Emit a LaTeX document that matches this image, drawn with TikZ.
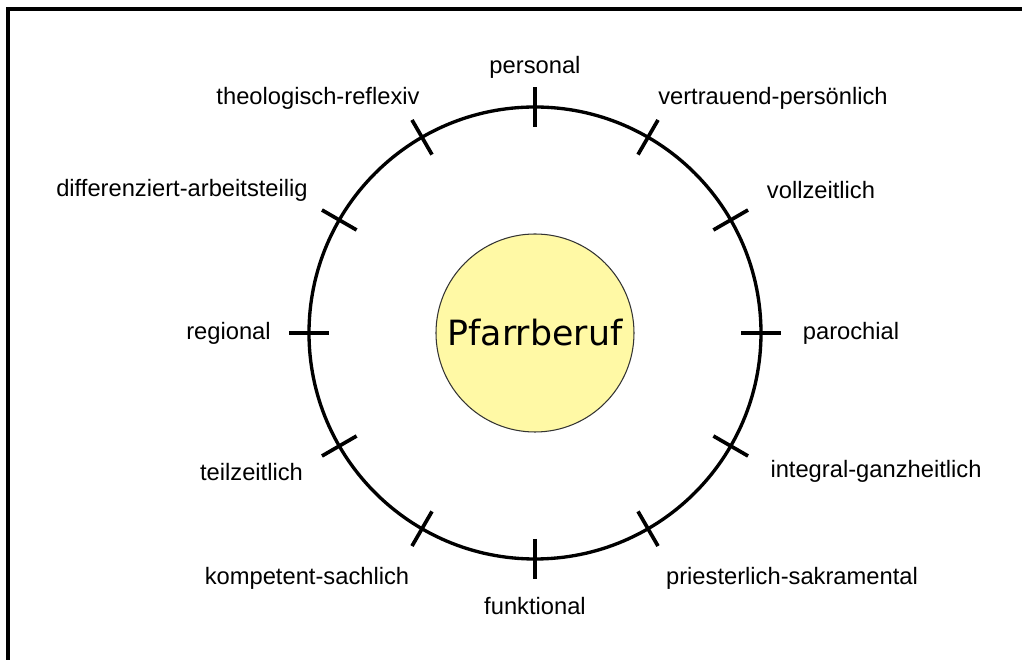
\documentclass[tikz,border=0pt]{standalone}
\usepackage{fontspec}
\setmainfont{Liberation Sans}
\newfontfamily\kernfont{DejaVu Sans}
\definecolor{kernfill}{RGB}{255,249,165}
\def\Rring{4.52}
\def\Rin{4.12}
\def\Rout{4.92}
\def\Rkern{1.98}
\tikzset{
  lbl/.style={inner sep=0pt,font=\fontsize{13.5}{16}\selectfont},
  ringtick/.style={line width=2.1pt},
}

\begin{document}
\begin{tikzpicture}
        \useasboundingbox (-10.7,-6.54) rectangle (9.74,6.66);
        %
        \draw[line width=1.8pt] (-10.54,-6.54) -- (-10.54,6.48) -- (9.74,6.48); % Rahmen
        %
        \draw[line width=1.9pt] (0,0) circle (\Rring);
        \draw[ringtick] (90:\Rin) -- (90:\Rout);
        \draw[ringtick] (60:\Rin) -- (60:\Rout);
        \draw[ringtick] (30:\Rin) -- (30:\Rout);
        \draw[ringtick] (0:\Rin) -- (0:\Rout);
        \draw[ringtick] (-30:\Rin) -- (-30:\Rout);
        \draw[ringtick] (-60:\Rin) -- (-60:\Rout);
        \draw[ringtick] (-90:\Rin) -- (-90:\Rout);
        \draw[ringtick] (-120:\Rin) -- (-120:\Rout);
        \draw[ringtick] (-150:\Rin) -- (-150:\Rout);
        \draw[ringtick] (180:\Rin) -- (180:\Rout);
        \draw[ringtick] (150:\Rin) -- (150:\Rout);
        \draw[ringtick] (120:\Rin) -- (120:\Rout);
        %
        \node[circle,draw=black!80,line width=0.6pt,fill=kernfill,minimum size=2*\Rkern cm,inner sep=0pt,font=\kernfont\fontsize{19.8}{22}\selectfont] (kern) at (0,0) {Pfarrberuf};
        %
        \node[lbl] (personal) at (0,5.32) {personal};
        \node[lbl] (vertrauend) at (4.76,4.70) {vertrauend-persönlich};
        \node[lbl] (vollzeit) at (5.72,2.86) {vollzeitlich};
        \node[lbl] (parochial) at (6.32,0) {parochial};
        \node[lbl] (integral) at (6.82,-2.76) {integral-ganzheitlich};
        \node[lbl] (priester) at (5.14,-4.90) {priesterlich-sakramental};
        \node[lbl] (funktional) at (0,-5.46) {funktional};
        \node[lbl] (kompetent) at (-4.56,-4.90) {kompetent-sachlich};
        \node[lbl] (teilzeit) at (-5.67,-2.78) {teilzeitlich};
        \node[lbl] (regional) at (-6.13,0) {regional};
        \node[lbl] (differenziert) at (-7.06,2.86) {differenziert-arbeitsteilig};
        \node[lbl] (theologisch) at (-4.34,4.70) {theologisch-reflexiv};
      \end{tikzpicture}
\end{document}
